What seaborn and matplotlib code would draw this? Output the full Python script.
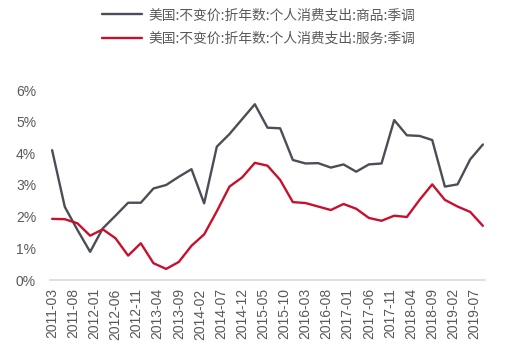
import numpy as np
import pandas as pd
import matplotlib
matplotlib.use("Agg")
import matplotlib.pyplot as plt
import seaborn as sns
from matplotlib.lines import Line2D

# quarterly data, 2011-03 .. 2019-09 (months since 2011-03)
dates = pd.period_range("2011-03", "2019-09", freq="3M")
goods = [4.10, 2.31, 1.58, 0.89, 1.63, 2.03, 2.44, 2.44, 2.89, 3.00, 3.26, 3.50,
         2.42, 4.21, 4.61, 5.08, 5.55, 4.81, 4.79, 3.79, 3.68, 3.69, 3.55, 3.65,
         3.42, 3.65, 3.68, 5.05, 4.57, 4.55, 4.42, 2.95, 3.02, 3.81, 4.28]
services = [1.93, 1.92, 1.79, 1.40, 1.60, 1.32, 0.77, 1.16, 0.53, 0.35, 0.57, 1.08,
            1.44, 2.17, 2.95, 3.24, 3.70, 3.61, 3.16, 2.46, 2.43, 2.32, 2.21, 2.40,
            2.25, 1.96, 1.87, 2.03, 1.99, 2.53, 3.02, 2.53, 2.32, 2.15, 1.71]
names = ["美国:不变价:折年数:个人消费支出:商品:季调",
         "美国:不变价:折年数:个人消费支出:服务:季调"]
tick_months = pd.period_range("2011-03", "2019-07", freq="5M")
tick_labels = [p.strftime("%Y-%m") for p in tick_months]

start = pd.Period("2011-03", freq="M")
months = [(pd.Period(str(d), freq="M") - start).n for d in dates]
ticks = [(pd.Period(str(t), freq="M") - start).n for t in tick_months]

df = pd.DataFrame({
    "m": months * 2,
    "v": goods + services,
    "s": [names[0]] * len(goods) + [names[1]] * len(services),
})

sns.set_theme(style="white")
plt.rcParams["font.family"] = ["Liberation Sans", "Noto Sans CJK SC", "DejaVu Sans"]

fig = plt.figure(figsize=(5.17, 3.52), dpi=100)
ax = fig.add_axes([50 / 517, 1 - 280 / 352, 435 / 517, 190 / 352])
colors = ["#4b4e56", "#c8102e"]
sns.lineplot(data=df, x="m", y="v", hue="s", palette=colors, linewidth=1.7,
             ax=ax, legend=False)

ax.set_xlim(-0.5, 102.5)
ax.set_ylim(0, 6)
ax.set_yticks(range(7))
ax.set_yticklabels([f"{i}%" for i in range(7)], color="#595959", fontsize=10)
ax.set_xticks(ticks)
ax.set_xticklabels(tick_labels, rotation=90, color="#595959", fontsize=10)
ax.set_xlabel("")
ax.set_ylabel("")
for sp in ["top", "right", "left"]:
    ax.spines[sp].set_visible(False)
ax.spines["bottom"].set_color("#d9d9d9")
ax.spines["bottom"].set_linewidth(1.2)
ax.tick_params(axis="both", length=0, pad=6)
ax.tick_params(axis="y", pad=10)

handles = [Line2D([0], [0], color=c, lw=1.7) for c in colors]
fig.legend(handles, names, loc="upper center", bbox_to_anchor=(0.5, 1.012),
           ncol=1, frameon=False, handlelength=2.9, handletextpad=0.5,
           labelspacing=0.7,
           prop={"family": ["Noto Sans CJK SC", "DejaVu Sans"], "size": 9.9},
           labelcolor="#595959")

fig.savefig("out.png", dpi=100)
